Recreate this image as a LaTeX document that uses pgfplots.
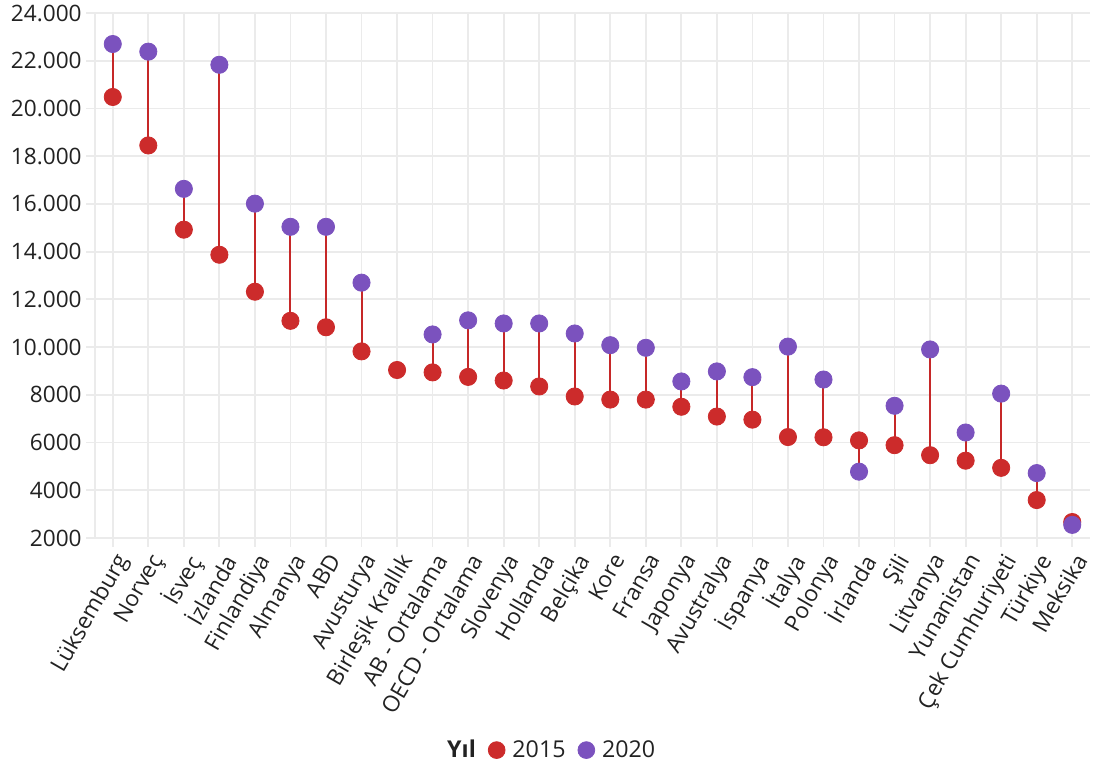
\documentclass[border=0pt]{standalone}
\usepackage{fontspec}
\setmainfont{Open Sans}
\usepackage{pgfplots}
\usepackage{pgfplotstable}
\pgfplotsset{compat=1.18}
\definecolor{cred}{HTML}{CC2B2B}
\definecolor{cline}{HTML}{C62828}
\definecolor{cpurple}{HTML}{7B52BE}
\definecolor{cgrid}{HTML}{EBEBEB}
\definecolor{ctext}{HTML}{222222}
\pgfplotstableread{
x y15 y20
0 20480 22700
1 18450 22380
2 14920 16630
3 13870 21830
4 12320 16010
5 11100 15040
6 10830 15040
7 9820 12700
8 9040 nan
9 8940 10530
10 8750 11120
11 8600 10990
12 8350 10990
13 7930 10570
14 7800 10080
15 7800 9970
16 7500 8560
17 7090 8980
18 6960 8740
19 6230 10020
20 6220 8640
21 6090 4780
22 5890 7540
23 5470 9900
24 5240 6420
25 4940 8050
26 3590 4720
27 2670 2550
}\data
\begin{document}
\begin{tikzpicture}
\useasboundingbox (-47.5pt,-115.5pt) rectangle (503pt,269pt);
\begin{axis}[
 scale only axis, width=497.5pt, height=262.5pt,
 at={(0,0)}, anchor=south west,
 xmin=-0.5, xmax=27.5, ymin=2000, ymax=24000,
 xtick={0,...,27},
 xticklabels={Lüksemburg,Norveç,İsveç,İzlanda,Finlandiya,Almanya,ABD,Avusturya,Birleşik Krallık,AB - Ortalama,OECD - Ortalama,Slovenya,Hollanda,Belçika,Kore,Fransa,Japonya,Avustralya,İspanya,İtalya,Polonya,İrlanda,Şili,Litvanya,Yunanistan,Çek Cumhuriyeti,Türkiye,Meksika},
 ytick={2000,4000,6000,8000,10000,12000,14000,16000,18000,20000,22000,24000},
 yticklabels={2000,4000,6000,8000,10.000,12.000,14.000,16.000,18.000,20.000,22.000,24.000},
 axis x line*=bottom, axis y line*=left,
 x axis line style={draw=none,-},
 y axis line style={draw=cgrid, line width=0.9pt,-},
 grid=major, major grid style={draw=cgrid, line width=0.9pt},
 tick align=outside, major tick length=4.5pt,
 major tick style={draw=cgrid, line width=0.9pt},
 tick label style={font=\fontsize{11.3}{13}\selectfont, text=ctext},
 /pgf/number format/assume math mode=true,
 xticklabel style={rotate=60, anchor=north east, inner sep=1.5pt},
 yticklabel style={inner sep=2pt},
 legend style={at={(0.457,-0.404)}, anchor=center, draw=none, fill=none,
   legend columns=-1, font=\fontsize{11.6}{14}\selectfont, text=ctext,
   /tikz/every odd column/.append style={column sep=1.5pt},
   /tikz/every even column/.append style={column sep=4pt}},
 clip=false,
]
\addplot[cline, line width=1pt, unbounded coords=jump, forget plot] coordinates {
(0,20480)(0,22700)(0,nan)
(1,18450)(1,22380)(1,nan)
(2,14920)(2,16630)(2,nan)
(3,13870)(3,21830)(3,nan)
(4,12320)(4,16010)(4,nan)
(5,11100)(5,15040)(5,nan)
(6,10830)(6,15040)(6,nan)
(7,9820)(7,12700)(7,nan)
(9,8940)(9,10530)(9,nan)
(10,8750)(10,11120)(10,nan)
(11,8600)(11,10990)(11,nan)
(12,8350)(12,10990)(12,nan)
(13,7930)(13,10570)(13,nan)
(14,7800)(14,10080)(14,nan)
(15,7800)(15,9970)(15,nan)
(16,7500)(16,8560)(16,nan)
(17,7090)(17,8980)(17,nan)
(18,6960)(18,8740)(18,nan)
(19,6230)(19,10020)(19,nan)
(20,6220)(20,8640)(20,nan)
(21,6090)(21,4780)(21,nan)
(22,5890)(22,7540)(22,nan)
(23,5470)(23,9900)(23,nan)
(24,5240)(24,6420)(24,nan)
(25,4940)(25,8050)(25,nan)
(26,3590)(26,4720)(26,nan)
(27,2670)(27,2550)
};
\addlegendimage{empty legend}
\addlegendentry{\textbf{Yıl}}
\addplot[only marks, mark=*, mark size=4.3pt, color=cred, mark options={solid, draw=cred, fill=cred},
  legend image code/.code={\fill[cred] (4pt,0pt) circle (4.2pt);}] table[x=x, y=y15] {\data};
\addlegendentry{2015}
\addplot[only marks, mark=*, mark size=4.3pt, color=cpurple, mark options={solid, draw=cpurple, fill=cpurple}, unbounded coords=discard,
  legend image code/.code={\fill[cpurple] (4pt,0pt) circle (4.2pt);}] table[x=x, y=y20] {\data};
\addlegendentry{2020}
\end{axis}
\end{tikzpicture}
\end{document}
